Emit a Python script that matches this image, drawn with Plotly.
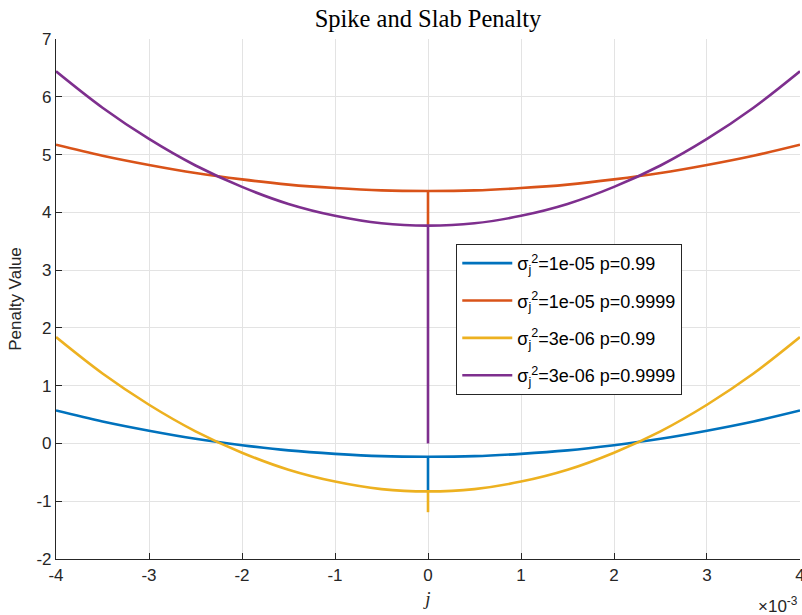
import plotly.graph_objects as go

# x positions (units of 1e-3)
x_vals = [-4, -3.5, -3, -2.5, -2, -1.5, -1, -0.5, 0, 0.5, 1, 1.5, 2, 2.5, 3, 3.5, 4]

blue_vals = [0.57, 0.38, 0.22, 0.08, -0.03, -0.12, -0.18, -0.22, -0.23,
             -0.22, -0.18, -0.12, -0.03, 0.08, 0.22, 0.38, 0.57]
orange_vals = [5.17, 4.98, 4.82, 4.68, 4.57, 4.48, 4.42, 4.38, 4.37,
               4.38, 4.42, 4.48, 4.57, 4.68, 4.82, 4.98, 5.17]
yellow_vals = [1.84, 1.21, 0.67, 0.21, -0.16, -0.455, -0.66, -0.79, -0.83,
               -0.79, -0.66, -0.455, -0.16, 0.21, 0.67, 1.21, 1.84]
purple_vals = [6.44, 5.81, 5.27, 4.81, 4.44, 4.145, 3.94, 3.81, 3.77,
               3.81, 3.94, 4.145, 4.44, 4.81, 5.27, 5.81, 6.44]

# spike (vertical segment at x=0): [top, bottom]
blue_spike = [-0.23, -0.83]
orange_spike = [4.37, 3.77]
yellow_spike = [-0.83, -1.19]
purple_spike = [3.77, 0.0]

names = ["σ<sub>j</sub><sup>2</sup>=1e-05 p=0.99",
         "σ<sub>j</sub><sup>2</sup>=1e-05 p=0.9999",
         "σ<sub>j</sub><sup>2</sup>=3e-06 p=0.99",
         "σ<sub>j</sub><sup>2</sup>=3e-06 p=0.9999"]
colors = ["#0072BD", "#D95319", "#EDB120", "#7E2F8E"]

x_ticks = [-4, -3, -2, -1, 0, 1, 2, 3, 4]
y_ticks = [-2, -1, 0, 1, 2, 3, 4, 5, 6, 7]

fig = go.Figure()
series = [blue_vals, orange_vals, yellow_vals, purple_vals]
spikes = [blue_spike, orange_spike, yellow_spike, purple_spike]
for vals, spk, name, col in zip(series, spikes, names, colors):
    fig.add_trace(go.Scatter(x=x_vals, y=vals, mode="lines", name=name,
                             line=dict(color=col, width=2.6, shape="spline"),
                             legendgroup=name))
    fig.add_trace(go.Scatter(x=[0, 0], y=spk, mode="lines", showlegend=False,
                             line=dict(color=col, width=2.6), legendgroup=name))

axis_common = dict(
    showline=True, linecolor="#262626", linewidth=1.2,
    ticks="inside", ticklen=6, tickcolor="#262626",
    showgrid=True, gridcolor="#e3e3e3", gridwidth=1,
    zeroline=False, mirror=False, automargin=False,
    tickfont=dict(family="Liberation Sans, Arial", size=17, color="#262626"),
)

fig.update_layout(
    width=802, height=615,
    margin=dict(l=56, r=2, t=39, b=56),
    paper_bgcolor="white", plot_bgcolor="white",
    title=dict(text="Spike and Slab Penalty", x=0.5, xref="paper",
               y=0.97, yref="container", yanchor="middle",
               font=dict(family="Liberation Serif, DejaVu Serif", size=24.5, color="#000000")),
    showlegend=True,
    legend=dict(x=0.538, y=0.606, xanchor="left", yanchor="top",
                bgcolor="white", bordercolor="#262626", borderwidth=1,
                font=dict(family="Liberation Sans, Arial", size=18, color="#000000"),
                itemwidth=50, tracegroupgap=11),
    xaxis=dict(range=[-4.0001, 4.0001], tickvals=x_ticks, ticktext=[str(v) for v in x_ticks],
               ticklabeloverflow="allow",
               title=dict(text="<i>j</i>", standoff=8,
                          font=dict(family="Liberation Serif, DejaVu Serif", size=19, color="#262626")),
               **axis_common),
    yaxis=dict(range=[-2, 7], tickvals=y_ticks, ticktext=[str(v) for v in y_ticks],
               title=dict(text="Penalty Value", standoff=10,
                          font=dict(family="Liberation Sans, Arial", size=17, color="#262626")),
               **axis_common),
)

fig.add_annotation(text="×10<sup>-3</sup>", xref="paper", yref="paper",
                   x=1.0, y=-0.088, xanchor="right", yanchor="middle", showarrow=False,
                   font=dict(family="Liberation Sans, Arial", size=17, color="#262626"))

fig.write_html("out.html")
